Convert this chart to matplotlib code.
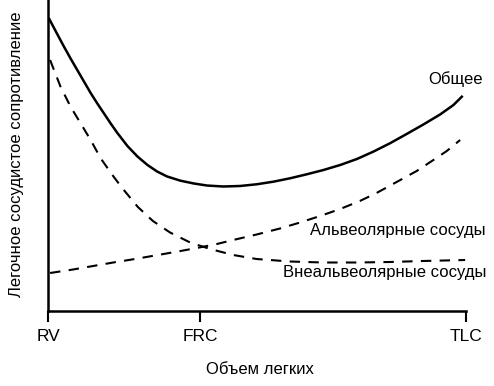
import matplotlib
matplotlib.use("Agg")
import matplotlib.pyplot as plt

plt.rcParams["font.family"] = ["Liberation Sans", "DejaVu Sans"]

# объем легких: RV = 0, TLC = 100
tick_pos = [0, 36.4, 100]
tick_labels = ["RV", "FRC", "TLC"]

# общее сопротивление
total_x = [0.3, 2.2, 3.8, 5.4, 7.0, 8.6, 10.2, 11.8, 13.4, 15.0, 16.6, 19.0, 21.4, 23.8, 26.1,
           28.5, 31.7, 34.9, 38.0, 41.9, 45.9, 49.9, 53.9, 57.9, 61.9, 65.9, 69.9, 73.9,
           77.8, 81.8, 85.8, 89.8, 93.8, 97.0, 99.0]
total_y = [292, 277, 264.5, 252.5, 241, 229.5, 218, 207.5, 197.5, 187.5, 178, 165, 154.5,
           146, 139.5, 134.5, 130.3, 127.5, 125.5, 124.5, 125, 126.7, 129.3, 132.7, 136.7, 141,
           146, 152, 159.3, 167.7, 177, 186.5, 196.5, 206, 214.3]

# внеальвеолярные сосуды
extra_x = [0.5, 3.0, 5.4, 7.8, 10.2, 12.6, 15.4, 17.8, 21.5, 25.1, 29.2, 34.0, 38.8, 44.3,
           49.9, 57.9, 65.8, 73.9, 81.8, 89.7, 99.8]
extra_y = [251, 224.3, 204.3, 187.7, 171, 152.7, 136, 122.7, 104, 90, 78.5, 68.5, 62, 56,
           52, 49.5, 48.5, 48.5, 49, 50, 51]

# альвеолярные сосуды
alv_x = [0.5, 6.0, 10.8, 15.6, 20.8, 25.6, 30.4, 35.6, 40.4, 44.3, 49.9, 55.5, 60.3, 65.1,
         69.9, 74.6, 78.6, 83.4, 88.2, 92.2, 95.4, 98.6]
alv_y = [38, 41.5, 45, 48.5, 52, 55.5, 59, 63, 67, 71, 76.5, 82.5, 88.5, 95,
         102, 110, 118, 129, 140, 151, 160, 171]

fig = plt.figure(figsize=(4.94, 3.86), dpi=100)
ax = fig.add_axes([48 / 494, 75 / 386, 418 / 494, 311 / 386])

ax.plot(total_x, total_y, color="black", linewidth=1.8)
ax.plot(extra_x, extra_y, color="black", linewidth=1.5, linestyle=(0, (5, 4)))
ax.plot(alv_x, alv_y, color="black", linewidth=1.5, linestyle=(0, (5, 4)))

ax.text(97.6, 232, "Общее", ha="center", va="center", fontsize=12)
ax.text(104.8, 80, "Альвеолярные сосуды", ha="right", va="center", fontsize=12, clip_on=False)
ax.text(104.8, 39, "Внеальвеолярные сосуды", ha="right", va="center", fontsize=12, clip_on=False)

ax.set_xlim(0, 100)
ax.set_ylim(0, 311)
ax.spines["top"].set_visible(False)
ax.spines["right"].set_visible(False)
ax.spines["left"].set_linewidth(1.8)
ax.spines["bottom"].set_linewidth(1.8)
ax.set_xticks(tick_pos)
ax.set_xticklabels(tick_labels, fontsize=12.5)
ax.tick_params(axis="x", direction="out", length=8, width=1.5, pad=5)
ax.set_yticks([])

fig.text(260 / 494, 1 - 370 / 386, "Объем легких", ha="center", va="center", fontsize=12)
fig.text(17 / 494, 1 - 154 / 386, "Легочное сосудистое сопротивление",
         rotation=90, ha="center", va="center", fontsize=12)

fig.savefig("out.png", dpi=100)
